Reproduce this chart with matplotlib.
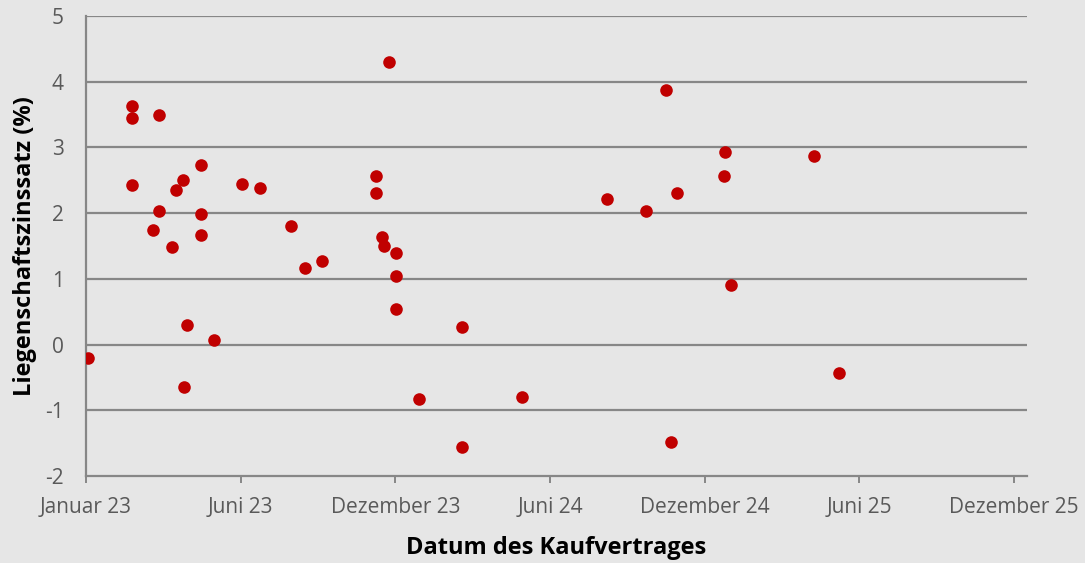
""" Liegenschaftszinssatz scatter """
import numpy as np
import pandas as pd
import matplotlib
matplotlib.use("Agg")
import matplotlib.pyplot as plt
import matplotlib.dates as mdates

plt.rcParams['font.family'] = ['Open Sans', 'DejaVu Sans']

# Datum des Kaufvertrages
dates = [
    "2023-01-03", "2023-02-23", "2023-02-23", "2023-02-23", "2023-03-27",
    "2023-03-27", "2023-03-20", "2023-04-11", "2023-04-16", "2023-04-24",
    "2023-04-28", "2023-04-25", "2023-05-15", "2023-05-15", "2023-05-15",
    "2023-05-30", "2023-07-02", "2023-07-23", "2023-08-27", "2023-09-13",
    "2023-10-03", "2023-12-20", "2023-12-05", "2023-12-05", "2023-12-11",
    "2023-12-14", "2023-12-28", "2023-12-28", "2023-12-28", "2024-03-14",
    "2024-01-23", "2024-05-22", "2024-03-14", "2024-08-29", "2024-10-14",
    "2024-11-06", "2024-11-19", "2024-11-12", "2025-01-12", "2025-01-14",
    "2025-01-21", "2025-04-27", "2025-05-26",
]
# Liegenschaftszinssatz in %
rates = [
    -0.21, 3.63, 3.45, 2.43, 3.50,
    2.03, 1.75, 1.49, 2.35, 2.50,
    0.30, -0.64, 2.74, 1.98, 1.67,
    0.07, 2.45, 2.39, 1.80, 1.17,
    1.27, 4.30, 2.57, 2.31, 1.64,
    1.50, 1.39, 1.05, 0.54, 0.26,
    -0.83, -0.80, -1.56, 2.22, 2.04,
    3.87, 2.31, -1.48, 2.56, 2.93,
    0.91, 2.87, -0.43,
]

tick_labels = ["Januar 23", "Juni 23", "Dezember 23", "Juni 24",
               "Dezember 24", "Juni 25", "Dezember 25"]
y_ticks = [-2, -1, 0, 1, 2, 3, 4, 5]


def main():
    """ main function """
    bg = "#e6e6e6"
    grid = "#878787"
    fig = plt.figure(figsize=(10.85, 5.63), dpi=100, facecolor=bg)
    ax = fig.add_axes([86 / 1085, 1 - 476 / 563, 941 / 1085, 460 / 563])
    ax.set_facecolor(bg)

    x = pd.to_datetime(dates)
    ax.scatter(x, rates, s=82, color="#c00000", zorder=3, linewidths=0)

    # excel style date axis: major unit of 180 days
    start = pd.Timestamp("2023-01-01")
    ticks = [start + pd.Timedelta(days=180 * i) for i in range(len(tick_labels))]
    ax.set_xticks(ticks)
    ax.set_xticklabels(tick_labels)
    ax.set_xlim(start, pd.Timestamp("2025-12-31"))

    ax.set_ylim(-2, 5)
    ax.set_yticks(y_ticks)
    ax.set_yticklabels([str(v) for v in y_ticks])

    for v in y_ticks[1:]:
        ax.axhline(v, color=grid, lw=1.6, zorder=1)

    for side in ["top", "right"]:
        ax.spines[side].set_visible(False)
    for side in ["left", "bottom"]:
        ax.spines[side].set_color(grid)
        ax.spines[side].set_linewidth(1.6)

    ax.tick_params(axis="x", direction="out", length=5, width=1.4, color=grid,
                   labelsize=15, labelcolor="#595959", pad=10)
    ax.tick_params(axis="y", length=0, labelsize=15, labelcolor="#595959", pad=16)

    ax.set_xlabel("Datum des Kaufvertrages", fontsize=17, fontweight="bold",
                  color="black", labelpad=13)
    ax.set_ylabel("Liegenschaftszinssatz (%)", fontsize=17, fontweight="bold",
                  color="black", labelpad=6)

    fig.savefig("out.png", dpi=100, facecolor=bg)


main()
